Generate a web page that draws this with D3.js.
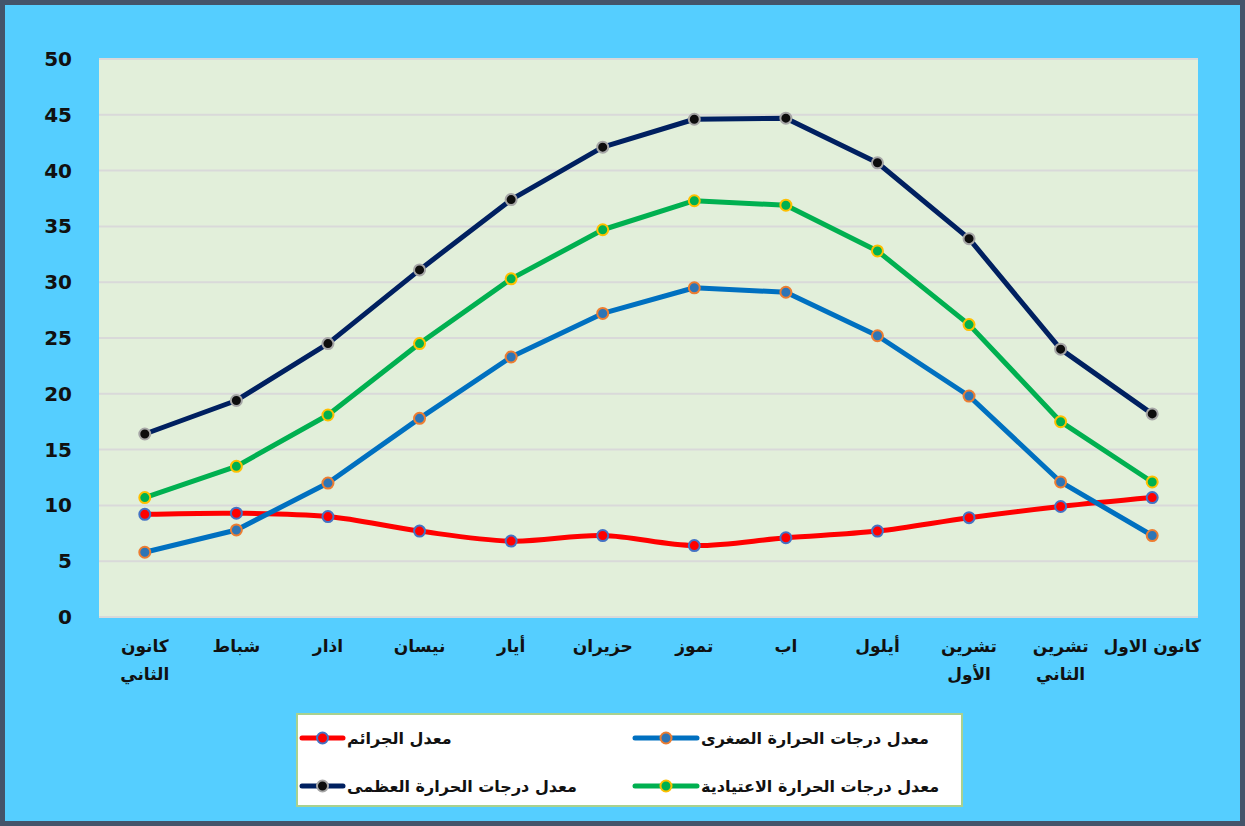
<!DOCTYPE html>
<html>
<head>
<meta charset="utf-8">
<script src="https://cdn.jsdelivr.net/npm/d3@7"></script>
<style>
  body { margin: 0; background: #fff; }
  text { font-family: "DejaVu Sans", sans-serif; font-weight: bold; }
</style>
</head>
<body>
<div id="chart"></div>
<script>
// months (x categories), lines broken where the label wraps
var months = ["كانون|الثاني", "شباط", "اذار", "نيسان", "أيار", "حزيران", "تموز", "اب", "أيلول", "تشرين|الأول", "تشرين|الثاني", "كانون الاول"];

// series
var tempMax = [16.4, 19.4, 24.5, 31.1, 37.4, 42.1, 44.6, 44.7, 40.7, 33.9, 24.0, 18.2];
var tempAvg = [10.7, 13.5, 18.1, 24.5, 30.3, 34.7, 37.3, 36.9, 32.8, 26.2, 17.5, 12.1];
var tempMin = [5.8, 7.8, 12.0, 17.8, 23.3, 27.2, 29.5, 29.1, 25.2, 19.8, 12.1, 7.3];
var crimes  = [9.2, 9.3, 9.0, 7.7, 6.8, 7.3, 6.4, 7.1, 7.7, 8.9, 9.9, 10.7];

var yTicks = [0, 5, 10, 15, 20, 25, 30, 35, 40, 45, 50];

var W = 1245, H = 826;
var svg = d3.select("#chart").append("svg")
  .attr("width", W).attr("height", H);

// outer frame
svg.append("rect").attr("x", 2.5).attr("y", 2.5)
  .attr("width", W - 5).attr("height", H - 5)
  .attr("fill", "#55CEFF").attr("stroke", "#44546A").attr("stroke-width", 5);

var pLeft = 99, pRight = 1198, pTop = 59, pBottom = 617;

var x = d3.scaleBand().domain(d3.range(months.length)).range([pLeft, pRight]);
var y = d3.scaleLinear().domain([0, 50]).range([pBottom, pTop]);
var cx = function(i) { return x(i) + x.bandwidth() / 2; };

// plot background
svg.append("rect").attr("x", pLeft).attr("y", pTop)
  .attr("width", pRight - pLeft).attr("height", pBottom - pTop)
  .attr("fill", "#E2EFDA");

// grid
svg.append("g").selectAll("line").data(yTicks).enter().append("line")
  .attr("x1", pLeft).attr("x2", pRight)
  .attr("y1", function(d) { return y(d); }).attr("y2", function(d) { return y(d); })
  .attr("stroke", "#D9D9D9").attr("stroke-width", 2);

// y labels
svg.append("g").selectAll("text").data(yTicks).enter().append("text")
  .attr("x", 72).attr("y", function(d) { return y(d) + 7; })
  .attr("text-anchor", "end")
  .attr("font-size", 20).attr("fill", "#111")
  .text(function(d) { return d; });

// x labels
var xl = svg.append("g").selectAll("text").data(months).enter().append("text")
  .attr("x", function(d, i) { return cx(i); })
  .attr("y", 652)
  .attr("text-anchor", "middle")
  .attr("font-size", 17).attr("fill", "#111");
xl.selectAll("tspan").data(function(d) { return d.split("|"); }).enter().append("tspan")
  .attr("x", function() { return d3.select(this.parentNode).attr("x"); })
  .attr("dy", function(d, i) { return i === 0 ? 0 : 28; })
  .text(function(d) { return d; });

var series = [
  { name: "معدل الجرائم", values: crimes, line: "#FF0000", fill: "#FF0000", edge: "#4472C4", smooth: true },
  { name: "معدل درجات الحرارة الصغرى", values: tempMin, line: "#0070C0", fill: "#2E75B6", edge: "#ED7D31" },
  { name: "معدل درجات الحرارة الاعتيادية", values: tempAvg, line: "#00B050", fill: "#00B050", edge: "#FFC000" },
  { name: "معدل درجات الحرارة العظمى", values: tempMax, line: "#002060", fill: "#0D0D0D", edge: "#A6A6A6" }
];

series.forEach(function(s) {
  var line = d3.line()
    .x(function(d, i) { return cx(i); })
    .y(function(d) { return y(d); })
    .curve(s.smooth ? d3.curveCatmullRom.alpha(0.5) : d3.curveLinear);
  svg.append("path").datum(s.values)
    .attr("d", line).attr("fill", "none")
    .attr("stroke", s.line).attr("stroke-width", 5)
    .attr("stroke-linejoin", "round");
});
series.forEach(function(s) {
  svg.append("g").selectAll("circle").data(s.values).enter().append("circle")
    .attr("cx", function(d, i) { return cx(i); })
    .attr("cy", function(d) { return y(d); })
    .attr("r", 5.5)
    .attr("fill", s.fill).attr("stroke", s.edge).attr("stroke-width", 2);
});

// legend
var lg = svg.append("g");
lg.append("rect").attr("x", 297).attr("y", 714).attr("width", 665).attr("height", 92)
  .attr("fill", "#fff").attr("stroke", "#A9D18E").attr("stroke-width", 2);

// [series index, symbol left x, row y]
var legendPos = [[1, 635, 738], [0, 302, 738], [2, 635, 786], [3, 302, 786]];
legendPos.forEach(function(p) {
  var s = series[p[0]], lx = p[1], ly = p[2];
  var w = lx > 500 ? 62 : 41;
  lg.append("line").attr("x1", lx).attr("x2", lx + w).attr("y1", ly).attr("y2", ly)
    .attr("stroke", s.line).attr("stroke-width", 5).attr("stroke-linecap", "round");
  lg.append("circle").attr("cx", lx + w / 2).attr("cy", ly).attr("r", 5.5)
    .attr("fill", s.fill).attr("stroke", s.edge).attr("stroke-width", 2);
  lg.append("text").attr("x", lx + w + 4).attr("y", ly + 6)
    .attr("text-anchor", "start").attr("font-size", 16).attr("fill", "#111")
    .text(s.name);
});
</script>
</body>
</html>
